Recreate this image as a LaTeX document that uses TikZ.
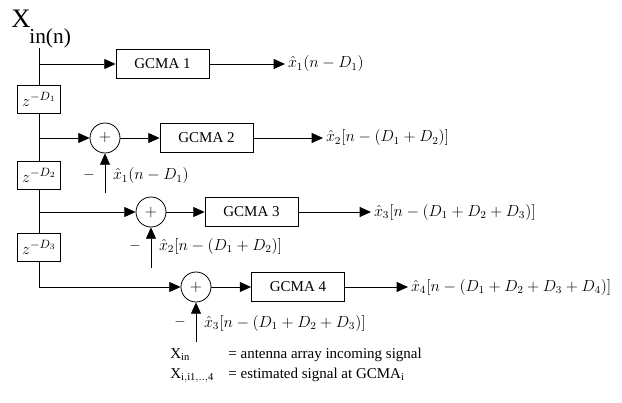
\documentclass[tikz,border=0pt]{standalone}
\usepackage{fontspec}
\setmainfont{Liberation Serif}
\usetikzlibrary{arrows.meta, positioning}

\begin{document}
\begin{tikzpicture}[x=0.75pt, y=-0.75pt, line width=0.6pt,
    every node/.style={font=\fontsize{11.25}{13}\selectfont},
    block/.style={draw, minimum width=69.75pt, minimum height=21.75pt, inner sep=0pt},
    delay/.style={draw, minimum width=32.25pt, minimum height=21pt, inner sep=0pt, font=\fontsize{12.5}{14}\selectfont},
    sum/.style={draw, circle, minimum size=22.5pt, inner sep=0pt, font=\fontsize{13}{14}\selectfont},
    sig/.style={-{Triangle[length=8.5pt,width=7.5pt]}},
    lbl/.style={anchor=west, inner sep=2pt, font=\fontsize{12}{14}\selectfont}]

    % Fix the picture size
    \useasboundingbox (0,0) rectangle (622,403);

    % Input label
    \node[anchor=base west, inner sep=0pt, font=\fontsize{20}{22}\selectfont] (xin) at (11,28) {X};
    \node[anchor=base west, inner sep=0pt, font=\fontsize{16}{18}\selectfont] (xinsub) at (29,44) {in(n)};

    % Taps on the input line
    \coordinate (top) at (39,48);
    \coordinate (tap1) at (39,64);
    \coordinate (tap2) at (39,138);
    \coordinate (tap3) at (39,212);

    % GCMA blocks
    \node[block] (gcma1) at (162.5,64) {GCMA 1};
    \node[block] (gcma2) at (206.5,138) {GCMA 2};
    \node[block] (gcma3) at (251.5,212) {GCMA 3};
    \node[block] (gcma4) at (298,287) {GCMA 4};

    % Delay blocks
    \node[delay] (d1) at (39,99) {$z^{-D_1}$};
    \node[delay] (d2) at (39,175) {$z^{-D_2}$};
    \node[delay] (d3) at (39,247) {$z^{-D_3}$};

    % Summing junctions
    \node[sum] (s2) at (105,138) {$+$};
    \node[sum] (s3) at (151,212) {$+$};
    \node[sum] (s4) at (196,287) {$+$};

    % Input line through the delays
    \draw (top) -- (d1);
    \draw (d1) -- (d2);
    \draw (d2) -- (d3);
    \draw[sig] (d3) |- (s4);

    % Branches into the blocks
    \draw[sig] (tap1) -- (gcma1);
    \draw[sig] (tap2) -- (s2);
    \draw[sig] (tap3) -- (s3);
    \draw[sig] (s2) -- (gcma2);
    \draw[sig] (s3) -- (gcma3);
    \draw[sig] (s4) -- (gcma4);

    % Outputs
    \node[lbl] (y1) at (285,64) {$\hat{x}_1(n-D_1)$};
    \node[lbl] (y2) at (323,138) {$\hat{x}_2[n-(D_1+D_2)]$};
    \node[lbl] (y3) at (371,212) {$\hat{x}_3[n-(D_1+D_2+D_3)]$};
    \node[lbl] (y4) at (408,287) {$\hat{x}_4[n-(D_1+D_2+D_3+D_4)]$};
    \draw[sig] (gcma1) -- (y1);
    \draw[sig] (gcma2) -- (y2);
    \draw[sig] (gcma3) -- (y3);
    \draw[sig] (gcma4) -- (y4);

    % Feedback of the previous estimates
    \coordinate (f2) at (105,193);
    \coordinate (f3) at (151,268);
    \coordinate (f4) at (196,342);
    \draw[sig] (f2) -- (s2);
    \draw[sig] (f3) -- (s3);
    \draw[sig] (f4) -- (s4);
    \node (m2) at (89,175) {$-$};
    \node (m3) at (135,246) {$-$};
    \node (m4) at (180,322) {$-$};
    \node[lbl] (e2) at (110,176) {$\hat{x}_1(n-D_1)$};
    \node[lbl] (e3) at (156,246) {$\hat{x}_2[n-(D_1+D_2)]$};
    \node[lbl] (e4) at (201,323) {$\hat{x}_3[n-(D_1+D_2+D_3)]$};

    % Legend
    \node[anchor=base west, inner sep=0pt] (k1) at (170,358) {X$_{\mathrm{in}}$};
    \node[anchor=base west, inner sep=0pt] (k1t) at (228,358) {= antenna array incoming signal};
    \node[anchor=base west, inner sep=0pt] (k2) at (170,378) {X$_{\mathrm{i,i1,..,4}}$};
    \node[anchor=base west, inner sep=0pt] (k2t) at (228,378) {= estimated signal at GCMA$_{\mathrm{i}}$};

\end{tikzpicture}
\end{document}
